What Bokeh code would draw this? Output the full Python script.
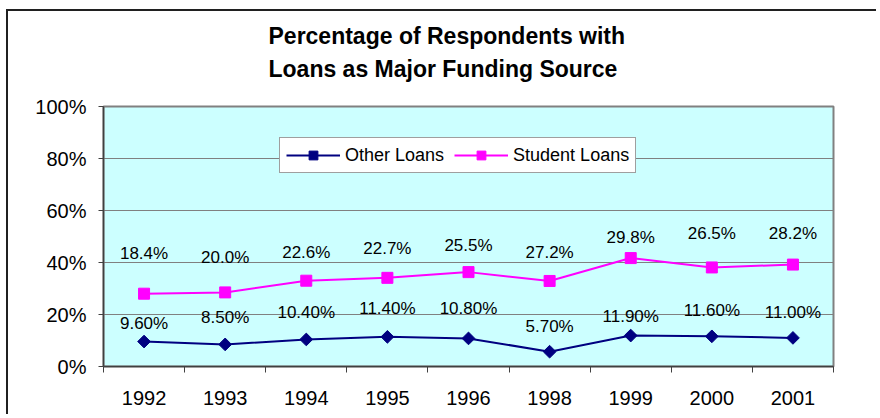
import numpy as np
from bokeh.plotting import figure
from bokeh.models import (ColumnDataSource, FixedTicker, Legend, LegendItem, LabelSet,
                          Title, Range1d, CustomJSTickFormatter, PrintfTickFormatter)
from bokeh.core.properties import value
from bokeh.embed import file_html
from bokeh.resources import INLINE

# ---- data ----
years = ["1992", "1993", "1994", "1995", "1996", "1998", "1999", "2000", "2001"]
other_loans = [9.6, 8.5, 10.4, 11.4, 10.8, 5.7, 11.9, 11.6, 11.0]
student_loans = [18.4, 20.0, 22.6, 22.7, 25.5, 27.2, 29.8, 26.5, 28.2]
y_ticks = [0, 20, 40, 60, 80, 100]
title_lines = ["Percentage of Respondents with", "Loans as Major Funding Source"]

# ---- label placement (style: pixels above each point) ----
other_label_lift = [18, 27, 27, 28, 30, 25, 19, 26, 25]
student_label_lift = [40, 35, 28, 29, 27, 28, 21, 34, 31]

# stacked line chart: student loans drawn on top of other loans
x = list(np.arange(len(years)) + 0.5)
student_stacked = list(np.array(other_loans) + np.array(student_loans))
other_labels = [f"{v:.2f}%" for v in other_loans]
student_labels = [f"{v:.1f}%" for v in student_loans]

FONT = "Liberation Sans"

p = figure(width=870, height=405, output_backend="svg", toolbar_location=None,
           x_range=Range1d(0, len(years)), y_range=Range1d(0, 100),
           min_border_left=95, min_border_right=45, min_border_top=94, min_border_bottom=50,
           title=None)
p.styles = {"border-left": "2px solid #202020", "border-top": "2px solid #202020",
            "margin-left": "6px", "margin-top": "9px"}

p.background_fill_color = "#CCFFFF"
p.border_fill_color = "white"
p.outline_line_color = "#808080"
p.outline_line_width = 2

# spacer between frame and title, then the two-line title
p.add_layout(Title(text=" ", text_font_size="1px", standoff=11), "above")
p.add_layout(Title(text="\n".join(title_lines), align="left", text_font=FONT,
                   text_font_size="23px", text_font_style="bold", text_color="black",
                   offset=165, standoff=20, text_line_height=1.27), "above")

# grid
p.xgrid.visible = False
p.ygrid.ticker = FixedTicker(ticks=y_ticks)
p.ygrid.grid_line_color = "#808080"
p.ygrid.grid_line_width = 1

# y axis
p.yaxis.ticker = FixedTicker(ticks=y_ticks)
p.yaxis.formatter = PrintfTickFormatter(format="%d%%")
p.yaxis.axis_line_color = "#404040"
p.yaxis.axis_line_width = 1.5
p.yaxis.major_tick_line_color = "#404040"
p.yaxis.major_tick_out = 5
p.yaxis.major_tick_in = 0
p.yaxis.minor_tick_line_color = None
p.yaxis.major_label_standoff = 12
p.yaxis.major_label_text_font = FONT
p.yaxis.major_label_text_font_size = "20px"
p.yaxis.major_label_text_color = "black"

# x axis: labels at category centres, tick marks between categories
p.xaxis.ticker = FixedTicker(ticks=x, minor_ticks=list(range(len(years) + 1)))
p.xaxis.formatter = CustomJSTickFormatter(args=dict(years=years),
                                          code="return years[Math.floor(tick)] || '';")
p.xaxis.axis_line_color = "#404040"
p.xaxis.axis_line_width = 1.5
p.xaxis.major_tick_line_color = None
p.xaxis.minor_tick_line_color = "#404040"
p.xaxis.minor_tick_out = 6
p.xaxis.minor_tick_in = 0
p.xaxis.major_label_standoff = 18
p.xaxis.major_label_text_font = FONT
p.xaxis.major_label_text_font_size = "20px"
p.xaxis.major_label_text_color = "black"

# series
r1 = p.line(x, other_loans, line_color="#000080", line_width=2)
m1 = p.scatter(x, other_loans, marker="square", angle=np.pi / 4, size=9,
               fill_color="#000080", line_color="#000080")
r2 = p.line(x, student_stacked, line_color="#FF00FF", line_width=2)
m2 = p.scatter(x, student_stacked, marker="square", size=11,
               fill_color="#FF00FF", line_color="#FF00FF")

# data labels
src_o = ColumnDataSource(dict(x=x, y=other_loans, t=other_labels, dy=other_label_lift))
src_s = ColumnDataSource(dict(x=x, y=student_stacked, t=student_labels, dy=student_label_lift))
for src in (src_o, src_s):
    p.add_layout(LabelSet(x="x", y="y", text="t", source=src, y_offset="dy",
                          text_align="center", text_baseline="middle",
                          text_font=value(FONT), text_font_size="17px", text_color="black"))

legend = Legend(items=[LegendItem(label="Other Loans", renderers=[r1, m1]),
                       LegendItem(label="Student Loans", renderers=[r2, m2])],
                orientation="horizontal", location=(176, 193),
                border_line_color="#404040", border_line_width=1,
                background_fill_color="white", background_fill_alpha=1,
                padding=6, margin=0, spacing=10, label_standoff=5,
                glyph_width=54, glyph_height=22, label_height=22,
                label_text_font=FONT, label_text_font_size="18px", label_text_color="black")
p.add_layout(legend, "center")

open("out.html", "w").write(file_html(p, INLINE))
